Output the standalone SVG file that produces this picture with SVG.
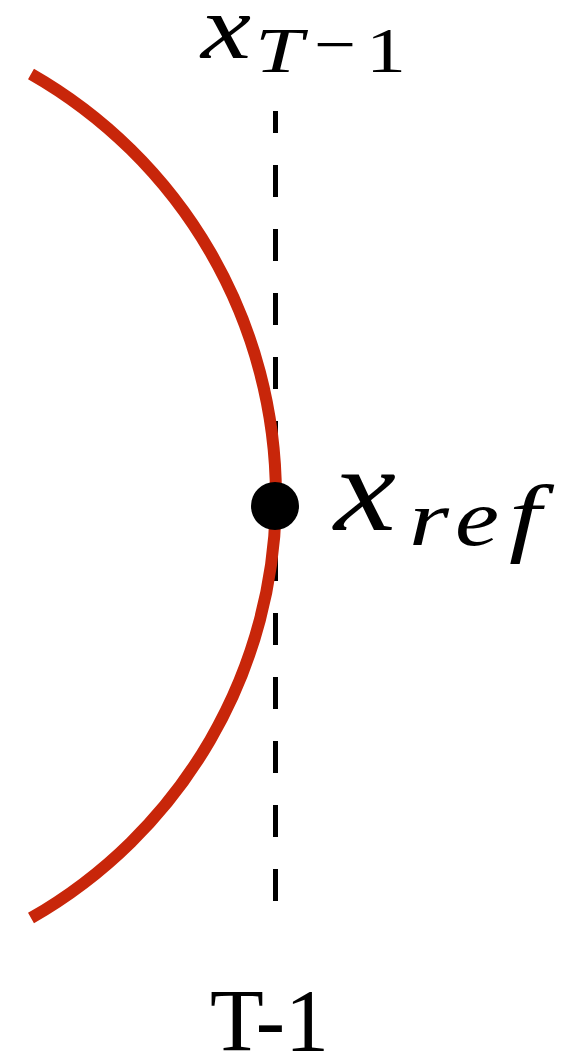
<svg xmlns="http://www.w3.org/2000/svg" width="564" height="1053" viewBox="0 0 564 1053">
<style>
.m{font-family:"Liberation Serif","DejaVu Serif",serif;font-style:italic;fill:#000}
.u{font-family:"Liberation Serif","DejaVu Serif",serif;fill:#000}
</style>
<rect width="564" height="1053" fill="#fff"/>
<g id="connectors">
<line x1="275.5" y1="111" x2="275.5" y2="902" stroke="#000" stroke-width="5" stroke-dasharray="32 32" stroke-dashoffset="10"/>
</g>
<g id="curve">
<path d="M31 74 A486 486 0 0 1 31 918" fill="none" stroke="#C8260A" stroke-width="12"/>
</g>
<g id="ref-point">
<circle cx="275" cy="506" r="24" fill="#000"/>
</g>
<g id="label-top">
<text class="m" x="201" y="58" font-size="90" textLength="50" lengthAdjust="spacingAndGlyphs">x</text>
<text class="m" x="255" y="72" font-size="64" textLength="48" lengthAdjust="spacingAndGlyphs">T</text>
<text class="u" x="314" y="66" font-size="64" textLength="42" lengthAdjust="spacingAndGlyphs">−</text>
<text class="u" x="366" y="72" font-size="64" textLength="40" lengthAdjust="spacingAndGlyphs">1</text>
</g>
<g id="label-ref">
<text class="m" x="334" y="530" font-size="120" textLength="62" lengthAdjust="spacingAndGlyphs">x</text>
<text class="m" x="409" y="545" font-size="78" textLength="40" lengthAdjust="spacingAndGlyphs">r</text>
<text class="m" x="455" y="545" font-size="80" textLength="44" lengthAdjust="spacingAndGlyphs">e</text>
<text class="m" x="509" y="545" font-size="86" textLength="32" lengthAdjust="spacingAndGlyphs">f</text>
</g>
<g id="label-bottom">
<text class="u" x="210" y="1050" font-size="88">T-1</text>
</g>
</svg>
